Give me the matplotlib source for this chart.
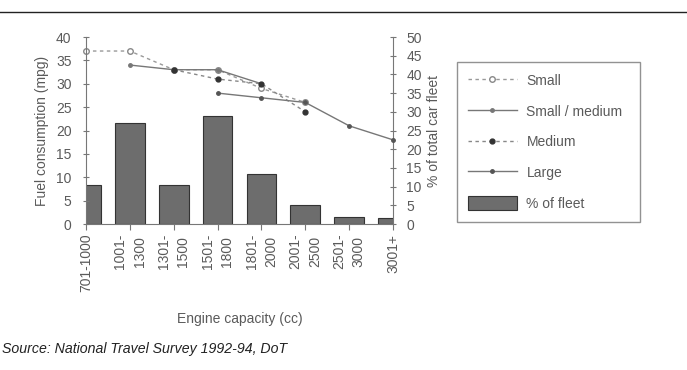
import matplotlib
matplotlib.use("Agg")
import matplotlib.pyplot as plt
import matplotlib.transforms as mtransforms
import numpy as np

plt.rcParams['font.family'] = ['Liberation Sans', 'DejaVu Sans']

# data
capacity = ['701-1000', '1001-\n1300', '1301-\n1500', '1501-\n1800',
            '1801-\n2000', '2001-\n2500', '2501-\n3000', '3001+']
fleet_pct = [10.5, 27, 10.5, 29, 13.5, 5, 2, 1.5]
small = [37, 37, 33, 33, 29, 26, np.nan, np.nan]
small_medium = [np.nan, 34, 33, 33, 30, np.nan, np.nan, np.nan]
medium = [np.nan, np.nan, 33, 31, 30, 24, np.nan, np.nan]
large = [np.nan, np.nan, np.nan, 28, 27, 26, 21, 18]

txt = '#5a5a5a'
grey = '#777777'

fig = plt.figure(figsize=(6.87, 3.70), dpi=100)
ax = fig.add_axes([86/687, 1-224/370, (393-86)/687, (224-37)/370])
ax2 = ax.twinx()
ax.set_zorder(ax2.get_zorder() + 1)
ax.patch.set_visible(False)

x = np.arange(len(capacity))
bars = ax2.bar(x, fleet_pct, 0.68, color='#6d6d6d', edgecolor='#333333',
               linewidth=0.8, label='% of fleet')

l1, = ax.plot(x, small, ls=(0, (2.5, 2.5)), color='#999999', lw=1,
              marker='o', ms=4, mfc='white', mec='#888888', clip_on=False,
              label='Small')
l2, = ax.plot(x, small_medium, ls='-', color=grey, lw=1, marker='o', ms=2.5,
              mfc=grey, mec=grey, clip_on=False, label='Small / medium')
l3, = ax.plot(x, medium, ls=(0, (2.5, 2.5)), color='#888888', lw=1,
              marker='o', ms=3.5, mfc='#333333', mec='#333333', clip_on=False,
              label='Medium')
l4, = ax.plot(x, large, ls='-', color=grey, lw=1, marker='o', ms=2.5,
              mfc='#555555', mec='#555555', clip_on=False, label='Large')

ax.set_xlim(0, 7)
ax.set_ylim(0, 40)
ax2.set_ylim(0, 50)
ax.set_yticks(np.arange(0, 41, 5))
ax2.set_yticks(np.arange(0, 51, 5))
ax.set_xticks(x)
ax.set_xticklabels(capacity, rotation=90, va='top', ha='center',
                   linespacing=1.5)
shift = mtransforms.ScaledTranslation(-6/100, 0, fig.dpi_scale_trans)
for lab in ax.get_xticklabels():
    lab.set_transform(lab.get_transform() + shift)

for a in (ax, ax2):
    a.spines['top'].set_visible(False)
    for s in ['left', 'right', 'bottom']:
        a.spines[s].set_color(grey)
    a.tick_params(colors=grey, labelcolor=txt, labelsize=10)
ax.spines['right'].set_visible(False)
ax2.spines['left'].set_visible(False)
ax2.spines['bottom'].set_visible(False)
ax.tick_params(axis='y', direction='inout', length=5, pad=8)
ax2.tick_params(axis='y', direction='inout', length=5, pad=7)
ax.tick_params(axis='x', direction='out', length=4, pad=3)

ax.set_ylabel('Fuel consumption (mpg)', color=txt, fontsize=10, labelpad=5)
ax2.set_ylabel('% of total car fleet', color=txt, fontsize=10, labelpad=4)
ax.set_xlabel('Engine capacity (cc)', color=txt, fontsize=10, labelpad=14)

leg = fig.legend([l1, l2, l3, l4, bars],
                 ['Small', 'Small / medium', 'Medium', 'Large', '% of fleet'],
                 loc='upper left', mode='expand',
                 bbox_to_anchor=(457/687, 1-62/370, (640-457)/687, 0.0),
                 fontsize=10, frameon=True, fancybox=False, edgecolor=grey,
                 handlelength=3.5, handleheight=1.2, labelspacing=1.15,
                 borderpad=0.8, handletextpad=0.7, borderaxespad=0)
leg.get_frame().set_linewidth(1)
for t in leg.get_texts():
    t.set_color(txt)

fig.add_artist(plt.Line2D([0, 1], [1-12/370, 1-12/370], color='#222222',
                          lw=1, transform=fig.transFigure))
fig.text(2/687, 1-353/370, 'Source: National Travel Survey 1992-94, DoT',
         fontsize=10.2, style='italic', color='#222222', va='baseline')

fig.savefig('out.png', dpi=100)
